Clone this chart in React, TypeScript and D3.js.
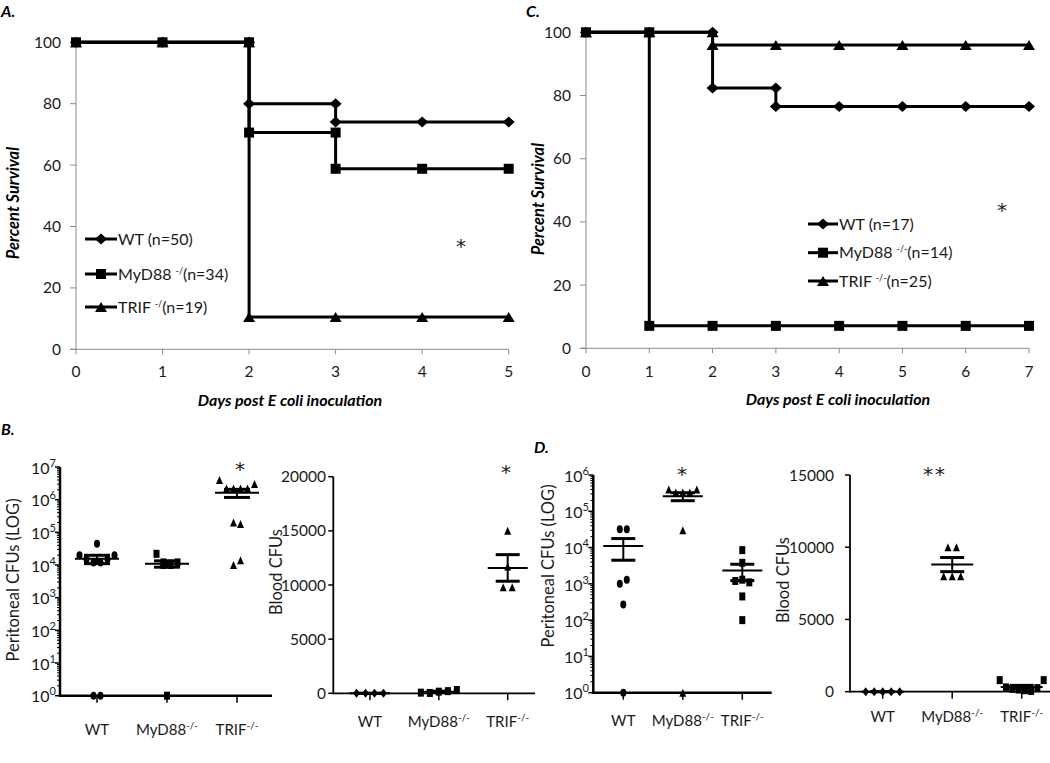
import React from 'react';
import * as d3 from 'd3';

const W = 1050;
const H = 763;
const FONT = "Lato, 'Open Sans', 'DejaVu Sans', sans-serif";
const STAR_FONT = "'DejaVu Sans', sans-serif";

type Shape = 'diamond' | 'square' | 'triangle' | 'oval';

// ---------------- Panel A (survival, 5 days) ----------------
const daysA = [0, 1, 2, 3, 4, 5];
const wtA_day = [0, 1, 2, 2, 3, 3, 4, 5];
const wtA_pct = [100, 100, 100, 80, 80, 74, 74, 74];
const mydA_day = [0, 1, 2, 2, 3, 3, 4, 5];
const mydA_pct = [100, 100, 100, 70.6, 70.6, 58.8, 58.8, 58.8];
const trifA_day = [0, 1, 2, 2, 3, 4, 5];
const trifA_pct = [100, 100, 100, 10.5, 10.5, 10.5, 10.5];
const legendA = [
  ['WT (n=50)', '', ''],
  ['MyD88 ', '-/', '(n=34)'],
  ['TRIF ', '-/', '(n=19)'],
];

// ---------------- Panel C (survival, 7 days) ----------------
const daysC = [0, 1, 2, 3, 4, 5, 6, 7];
const wtC_day = [0, 1, 2, 2, 3, 3, 4, 5, 6, 7];
const wtC_pct = [100, 100, 100, 82.4, 82.4, 76.5, 76.5, 76.5, 76.5, 76.5];
const mydC_day = [0, 1, 1, 2, 3, 4, 5, 6, 7];
const mydC_pct = [100, 100, 7.1, 7.1, 7.1, 7.1, 7.1, 7.1, 7.1];
const trifC_day = [0, 1, 2, 2, 3, 4, 5, 6, 7];
const trifC_pct = [100, 100, 100, 96, 96, 96, 96, 96, 96];
const legendC = [
  ['WT (n=17)', '', ''],
  ['MyD88 ', '-/-', '(n=14)'],
  ['TRIF ', '-/-', '(n=25)'],
];

const survivalTicks = [0, 20, 40, 60, 80, 100];

// ---------------- Panel B / D (CFU scatter) ----------------
const categories = ['WT', 'MyD88', 'TRIF'];

const periB_WT = [4.5e4, 2e4, 1.5e4, 1.2e4, 1.2e4, 1.5e4, 2e4, 1, 1];
const periB_MyD88 = [2.2e4, 1.2e4, 1.1e4, 1e4, 1.2e4, 1e4, 1];
const periB_TRIF = [4e6, 2.2e6, 2.2e6, 2.2e6, 2.2e6, 3e6, 2e5, 1.8e5, 1e4, 1.4e4];

const bloodB_WT = [0, 0, 0, 0];
const bloodB_MyD88 = [60, 30, 150, 200, 300];
const bloodB_TRIF = [15000, 9800, 11700, 9800];

const periD_WT = [3.2e4, 3.2e4, 1e3, 1.3e3, 2.7e2, 1];
const periD_MyD88 = [4e5, 3.3e5, 3.3e5, 3.3e5, 4e5, 3e4, 1];
const periD_TRIF = [8.5e3, 1.2e3, 3.8e3, 1.3e3, 1.1e3, 4.5e2, 1e2];

const bloodD_WT = [0, 0, 0, 0, 0];
const bloodD_MyD88 = [10000, 10000, 8000, 8000, 8000];
const bloodD_TRIF = [800, 300, 200, 150, 100, 50, 250, 800];

const bloodB_ticks = [0, 5000, 10000, 15000, 20000];
const bloodD_ticks = [0, 5000, 10000, 15000];

// ---------------- helpers ----------------
function Marker({ shape, cx, cy, w, h }: { shape: Shape; cx: number; cy: number; w: number; h: number }) {
  if (shape === 'square') return <rect x={cx - w / 2} y={cy - h / 2} width={w} height={h} fill="#000" />;
  if (shape === 'oval') return <ellipse cx={cx} cy={cy} rx={w / 2} ry={h / 2} fill="#000" />;
  if (shape === 'diamond')
    return <path d={`M${cx},${cy - h / 2}L${cx + w / 2},${cy}L${cx},${cy + h / 2}L${cx - w / 2},${cy}Z`} fill="#000" />;
  return <path d={`M${cx},${cy - h / 2}L${cx + w / 2},${cy + h / 2}L${cx - w / 2},${cy + h / 2}Z`} fill="#000" />;
}

const survSize: Record<Shape, [number, number]> = {
  diamond: [12, 11],
  square: [10, 10],
  triangle: [12, 10],
  oval: [10, 10],
};
const dotSize: Record<Shape, [number, number]> = {
  diamond: [7, 9],
  square: [6, 8],
  triangle: [7, 8],
  oval: [6, 8],
};

function Label3({ parts, supSize = 9, supDy = -6 }: { parts: string[]; supSize?: number; supDy?: number }) {
  return (
    <>
      <tspan>{parts[0]}</tspan>
      {parts[1] ? (
        <tspan dy={supDy} fontSize={supSize}>
          {parts[1]}
        </tspan>
      ) : null}
      {parts[1] ? <tspan dy={-supDy}>{parts[2]}</tspan> : parts[2] ? <tspan>{parts[2]}</tspan> : null}
    </>
  );
}

function Star({ x, y, text }: { x: number; y: number; text: string }) {
  return (
    <text x={x} y={y} textAnchor="middle" fontSize={20} fill="#1a1a1a" fontFamily={STAR_FONT} letterSpacing={text.length > 1 ? 2 : 0}>
      {text}
    </text>
  );
}

interface Series {
  day: number[];
  pct: number[];
  shape: Shape;
}

function Survival(p: {
  days: number[];
  series: Series[];
  labels: string[][];
  xr: [number, number];
  yr: [number, number];
  legX: [number, number];
  legY: number[];
  star: [number, number];
  xTitle: [number, number];
  yTitle: [number, number];
}) {
  const x = d3.scaleLinear().domain([d3.min(p.days)!, d3.max(p.days)!]).range(p.xr);
  const y = d3.scaleLinear().domain([0, 100]).range(p.yr);
  const line = d3
    .line<[number, number]>()
    .x((d) => x(d[0]))
    .y((d) => y(d[1]));
  const axisColor = '#8a8a8a';
  return (
    <g>
      {/* axes */}
      <line x1={x(0)} x2={x(0)} y1={y(0)} y2={y(100)} stroke={axisColor} strokeWidth={1} />
      <line x1={x(0) - 6} x2={p.xr[1]} y1={y(0)} y2={y(0)} stroke={axisColor} strokeWidth={1} />
      {survivalTicks.map((t) => (
        <g key={'y' + t}>
          <line x1={x(0) - 6} x2={x(0)} y1={y(t)} y2={y(t)} stroke={axisColor} strokeWidth={1} />
          <text x={x(0) - 15} y={y(t)} dy="0.36em" textAnchor="end" fontSize={15.5} fill="#1a1a1a">
            {t}
          </text>
        </g>
      ))}
      {p.days.map((d) => (
        <g key={'x' + d}>
          <line x1={x(d)} x2={x(d)} y1={y(0)} y2={y(0) + 5} stroke={axisColor} strokeWidth={1} />
          <text x={x(d)} y={377} textAnchor="middle" fontSize={15.5} fill="#1a1a1a">
            {d}
          </text>
        </g>
      ))}
      {/* series */}
      {p.series.map((s, si) => {
        const pts = s.day.map((d, i) => [d, s.pct[i]] as [number, number]);
        const [mw, mh] = survSize[s.shape];
        return (
          <g key={si}>
            <path d={line(pts)!} fill="none" stroke="#000" strokeWidth={3} />
            {pts.map((pt, i) => (
              <Marker key={i} shape={s.shape} cx={x(pt[0])} cy={y(pt[1])} w={mw} h={mh} />
            ))}
          </g>
        );
      })}
      {/* legend */}
      {p.series.map((s, si) => {
        const [mw, mh] = survSize[s.shape];
        const cy = p.legY[si];
        return (
          <g key={'l' + si}>
            <line x1={p.legX[0]} x2={p.legX[1]} y1={cy} y2={cy} stroke="#000" strokeWidth={3} />
            <Marker shape={s.shape} cx={(p.legX[0] + p.legX[1]) / 2} cy={cy} w={mw} h={mh} />
            <text x={p.legX[1] + 1} y={cy + 5.5} fontSize={16} fill="#1a1a1a">
              <Label3 parts={p.labels[si]} />
            </text>
          </g>
        );
      })}
      <Star x={p.star[0]} y={p.star[1]} text="*" />
      <text x={p.xTitle[0]} y={p.xTitle[1]} textAnchor="middle" fontSize={16} fontWeight="bold" fontStyle="italic">
        Days post E coli inoculation
      </text>
      <text
        transform={`translate(${p.yTitle[0]},${p.yTitle[1]}) rotate(-90)`}
        textAnchor="middle"
        dominantBaseline="central"
        fontSize={16.5}
        fontWeight="bold"
        fontStyle="italic"
      >
        Percent Survival
      </text>
    </g>
  );
}

function spread(vals: number[], yf: (v: number) => number, thresh: number, spacing: number, maxHalf: number) {
  const idx = vals.map((_, i) => i).sort((a, b) => yf(vals[a]) - yf(vals[b]));
  const bins: number[][] = [];
  let cur: number[] = [];
  let y0 = -Infinity;
  for (const i of idx) {
    const yy = yf(vals[i]);
    if (cur.length && yy - y0 < thresh) cur.push(i);
    else {
      if (cur.length) bins.push(cur);
      cur = [i];
      y0 = yy;
    }
  }
  if (cur.length) bins.push(cur);
  const dx = new Array(vals.length).fill(0);
  for (const b of bins) {
    b.sort((a, c) => a - c);
    const sp = b.length > 1 ? Math.min(spacing, (maxHalf * 2) / (b.length - 1)) : 0;
    b.forEach((i, k) => (dx[i] = (k - (b.length - 1) / 2) * sp));
  }
  return dx;
}

function Scatter(p: {
  groups: number[][];
  shapes: Shape[];
  log: boolean;
  yDomain: [number, number];
  yr: [number, number];
  catX: [number, number];
  axisX: number;
  axisEnd: number;
  yTicks: number[];
  labelX: number;
  axisW: number;
  thresh: number;
  spacing: number;
  maxHalf: number;
  meanHalf: number;
  semHalf: number;
  yTitle: string;
  yTitlePos: [number, number];
  catLabelY: number;
  star: string;
  starPos: [number, number];
}) {
  const y: (v: number) => number = p.log
    ? d3.scaleLog().domain(p.yDomain).range(p.yr)
    : d3.scaleLinear().domain(p.yDomain).range(p.yr);
  const x = d3.scalePoint<string>().domain(categories).range(p.catX);
  const y0 = p.yr[0];
  const minor: number[] = [];
  if (p.log) {
    const e0 = Math.log10(p.yDomain[0]);
    const e1 = Math.log10(p.yDomain[1]);
    for (let e = e0; e < e1; e++) for (let m = 2; m <= 9; m++) minor.push(m * Math.pow(10, e));
  }
  return (
    <g>
      {/* y axis */}
      <line x1={p.axisX} x2={p.axisX} y1={y0 + p.axisW / 2} y2={p.yr[1]} stroke="#000" strokeWidth={p.axisW} />
      <line x1={p.axisX} x2={p.axisEnd} y1={y0} y2={y0} stroke="#000" strokeWidth={p.axisW} />
      {minor.map((m, i) => (
        <line key={'m' + i} x1={p.axisX - 3} x2={p.axisX} y1={y(m)} y2={y(m)} stroke="#000" strokeWidth={1} />
      ))}
      {p.yTicks.map((t) => (
        <g key={'t' + t}>
          <line x1={p.axisX - 5} x2={p.axisX} y1={y(t)} y2={y(t)} stroke="#000" strokeWidth={1.5} />
          {p.log ? (
            <text x={p.labelX} y={y(t)} dy="0.42em" textAnchor="end" fontSize={16} fill="#1a1a1a">
              <tspan>10</tspan>
              <tspan dy={-7} fontSize={11}>
                {Math.round(Math.log10(t))}
              </tspan>
            </text>
          ) : (
            <text x={p.labelX} y={y(t)} dy="0.36em" textAnchor="end" fontSize={15.5} fill="#1a1a1a">
              {t}
            </text>
          )}
        </g>
      ))}
      {/* category ticks & labels */}
      {categories.map((c) => (
        <g key={'c' + c}>
          <line x1={x(c)!} x2={x(c)!} y1={y0} y2={y0 + 7} stroke="#000" strokeWidth={1.5} />
          <text x={x(c)!} y={p.catLabelY} textAnchor="middle" fontSize={15} fill="#1a1a1a">
            {c === 'WT' ? (
              'WT'
            ) : (
              <>
                <tspan>{c}</tspan>
                <tspan dy={-6} fontSize={10}>
                  -/-
                </tspan>
              </>
            )}
          </text>
        </g>
      ))}
      {/* points */}
      {p.groups.map((vals, gi) => {
        const cx = x(categories[gi])!;
        const dx = spread(vals, y, p.thresh, p.spacing, p.maxHalf);
        const [mw, mh] = dotSize[p.shapes[gi]];
        const mean = d3.mean(vals)!;
        const sem = vals.length > 1 ? d3.deviation(vals)! / Math.sqrt(vals.length) : 0;
        const hi = y(mean + sem);
        const lo = y(p.log ? Math.max(mean - sem, p.yDomain[0]) : mean - sem);
        return (
          <g key={'g' + gi}>
            {vals.map((v, i) => (
              <Marker key={i} shape={p.shapes[gi]} cx={cx + dx[i]} cy={y(v)} w={mw} h={mh} />
            ))}
            <line x1={cx} x2={cx} y1={hi} y2={lo} stroke="#000" strokeWidth={2} />
            <line x1={cx - p.semHalf} x2={cx + p.semHalf} y1={hi} y2={hi} stroke="#000" strokeWidth={3} />
            <line x1={cx - p.semHalf} x2={cx + p.semHalf} y1={lo} y2={lo} stroke="#000" strokeWidth={3} />
            <line x1={cx - p.meanHalf} x2={cx + p.meanHalf} y1={y(mean)} y2={y(mean)} stroke="#000" strokeWidth={2} />
          </g>
        );
      })}
      <Star x={p.starPos[0]} y={p.starPos[1]} text={p.star} />
      <text
        transform={`translate(${p.yTitlePos[0]},${p.yTitlePos[1]}) rotate(-90)`}
        textAnchor="middle"
        dominantBaseline="central"
        fontSize={16.5}
        fill="#1a1a1a"
      >
        {p.yTitle}
      </text>
    </g>
  );
}

function PanelLabel({ x, y, text }: { x: number; y: number; text: string }) {
  return (
    <text x={x} y={y} fontSize={16} fontWeight="bold" fontStyle="italic">
      {text}
    </text>
  );
}

export default function App() {
  const logTicksB = d3.range(0, 8).map((e) => Math.pow(10, e));
  const logTicksD = d3.range(0, 7).map((e) => Math.pow(10, e));
  return (
    <svg
      width={W}
      height={H}
      viewBox={`0 0 ${W} ${H}`}
      style={{ position: 'absolute', left: 0, top: 0, background: '#fff' }}
      fontFamily={FONT}
    >
      <rect width={W} height={H} fill="#fff" />
      <PanelLabel x={1} y={16.5} text="A." />
      <PanelLabel x={526} y={16.5} text="C." />
      <PanelLabel x={1} y={435} text="B." />
      <PanelLabel x={534} y={453} text="D." />

      <Survival
        days={daysA}
        series={[
          { day: wtA_day, pct: wtA_pct, shape: 'diamond' },
          { day: mydA_day, pct: mydA_pct, shape: 'square' },
          { day: trifA_day, pct: trifA_pct, shape: 'triangle' },
        ]}
        labels={legendA}
        xr={[76, 508.7]}
        yr={[349.3, 42.3]}
        legX={[85, 117]}
        legY={[239, 274, 307]}
        star={[461, 253]}
        xTitle={[290, 406]}
        yTitle={[12.5, 203]}
      />
      <Survival
        days={daysC}
        series={[
          { day: wtC_day, pct: wtC_pct, shape: 'diamond' },
          { day: mydC_day, pct: mydC_pct, shape: 'square' },
          { day: trifC_day, pct: trifC_pct, shape: 'triangle' },
        ]}
        labels={legendC}
        xr={[586, 1029]}
        yr={[348.3, 32.3]}
        legX={[808, 838]}
        legY={[224, 252.7, 281]}
        star={[1002, 217]}
        xTitle={[838, 405]}
        yTitle={[538, 199]}
      />

      <Scatter
        groups={[periB_WT, periB_MyD88, periB_TRIF]}
        shapes={['oval', 'square', 'triangle']}
        log={true}
        yDomain={[1, 1e7]}
        yr={[695.7, 467]}
        catX={[97, 237]}
        axisX={60}
        axisEnd={272}
        yTicks={logTicksB}
        labelX={56}
        axisW={2.5}
        thresh={11}
        spacing={7}
        maxHalf={18}
        meanHalf={22}
        semHalf={13}
        yTitle="Peritoneal CFUs (LOG)"
        yTitlePos={[13, 580]}
        catLabelY={735}
        star="*"
        starPos={[240, 476]}
      />
      <Scatter
        groups={[bloodB_WT, bloodB_MyD88, bloodB_TRIF]}
        shapes={['diamond', 'square', 'triangle']}
        log={false}
        yDomain={[0, 20000]}
        yr={[693.3, 476.7]}
        catX={[370, 507.7]}
        axisX={333.3}
        axisEnd={535}
        yTicks={bloodB_ticks}
        labelX={326}
        axisW={1.8}
        thresh={8}
        spacing={9}
        maxHalf={18}
        meanHalf={20}
        semHalf={12}
        yTitle="Blood CFUs"
        yTitlePos={[276, 572]}
        catLabelY={727}
        star="*"
        starPos={[506, 479]}
      />
      <Scatter
        groups={[periD_WT, periD_MyD88, periD_TRIF]}
        shapes={['oval', 'triangle', 'square']}
        log={true}
        yDomain={[1, 1e6]}
        yr={[692.7, 475]}
        catX={[623.3, 742.3]}
        axisX={593.3}
        axisEnd={771.7}
        yTicks={logTicksD}
        labelX={589}
        axisW={2.5}
        thresh={8}
        spacing={7}
        maxHalf={14}
        meanHalf={20}
        semHalf={12}
        yTitle="Peritoneal CFUs (LOG)"
        yTitlePos={[548, 566]}
        catLabelY={726}
        star="*"
        starPos={[682, 481]}
      />
      <Scatter
        groups={[bloodD_WT, bloodD_MyD88, bloodD_TRIF]}
        shapes={['diamond', 'triangle', 'square']}
        log={false}
        yDomain={[0, 15000]}
        yr={[691.7, 475]}
        catX={[882.7, 1021.7]}
        axisX={850}
        axisEnd={1050}
        yTicks={bloodD_ticks}
        labelX={834}
        axisW={1.8}
        thresh={12}
        spacing={8.5}
        maxHalf={22}
        meanHalf={21}
        semHalf={12}
        yTitle="Blood CFUs"
        yTitlePos={[783, 580]}
        catLabelY={722}
        star="**"
        starPos={[935, 481]}
      />
    </svg>
  );
}
